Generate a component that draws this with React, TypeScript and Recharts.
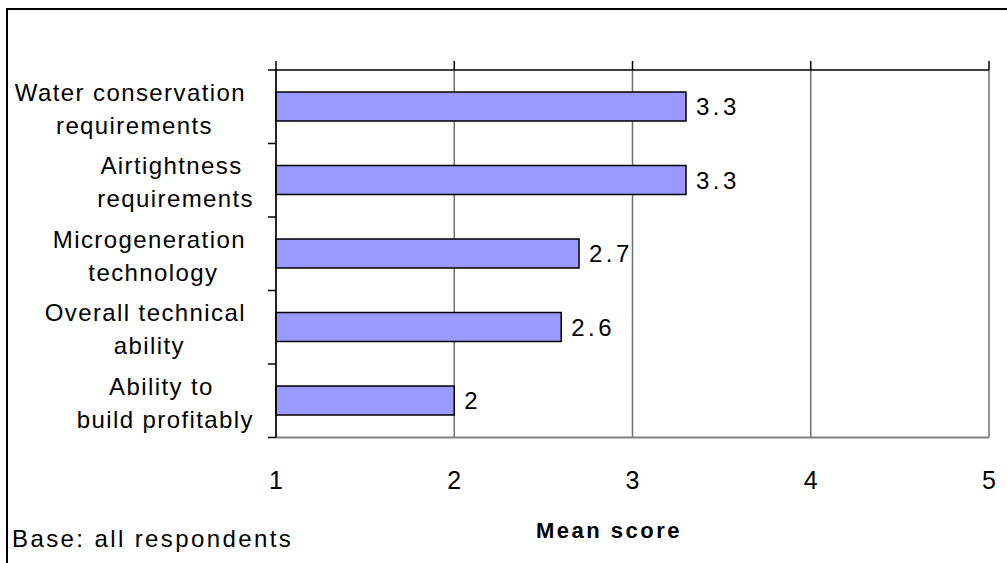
import {
  BarChart,
  Bar,
  XAxis,
  YAxis,
  CartesianGrid,
  LabelList,
} from "recharts";

const categories = [
  "Water conservation\nrequirements",
  "Airtightness\nrequirements",
  "Microgeneration\ntechnology",
  "Overall technical\nability",
  "Ability to\nbuild profitably",
];
const meanScores = [3.3, 3.3, 2.7, 2.6, 2];
const xTicks = [1, 2, 3, 4, 5];

const data = categories.map((name, i) => ({ name, score: meanScores[i] }));

const FONT = "'Liberation Sans', Arial, sans-serif";
const LABEL_SIZE = 24;
const LABEL_SPACING = 1.4;

let ctx: CanvasRenderingContext2D | null = null;
function textWidth(s: string) {
  if (!ctx) ctx = document.createElement("canvas").getContext("2d");
  if (!ctx) return s.length * LABEL_SIZE * 0.5;
  ctx.font = `${LABEL_SIZE}px ${FONT}`;
  return ctx.measureText(s).width + s.length * LABEL_SPACING;
}

// category label: lines centred inside a block that is right-aligned to the axis
// (Excel keeps the trailing space on wrapped lines), plus tick marks at the
// category boundaries
function CategoryTick(props: any) {
  const { x, y, payload, index, visibleTicksCount } = props;
  const half = payload.offset ?? 0;
  const lines: string[] = String(payload.value).split("\n");
  const space = textWidth(" ");
  const blockW = Math.max(
    ...lines.map((l, i) => textWidth(i < lines.length - 1 ? l + " " : l))
  );
  const cx = x - 22 - blockW / 2;
  const last = index === visibleTicksCount - 1;
  return (
    <g>
      <line x1={x - 8} x2={x} y1={y - half} y2={y - half} stroke="#000" strokeWidth={1.5} />
      {last && (
        <line x1={x - 8} x2={x} y1={y + half} y2={y + half} stroke="#000" strokeWidth={1.5} />
      )}
      {lines.map((l, i) => (
        <text
          key={i}
          x={i < lines.length - 1 ? cx - space / 2 : cx}
          y={y - 6 + i * 33}
          textAnchor="middle"
          fill="#000"
          style={{ fontFamily: FONT, fontSize: LABEL_SIZE, letterSpacing: LABEL_SPACING }}
        >
          {l}
        </text>
      ))}
    </g>
  );
}

const NoLabel = () => <g />;

export default function App() {
  return (
    <div
      style={{
        position: "absolute",
        left: 6,
        top: 8,
        width: 999,
        height: 553,
        borderTop: "2px solid #000",
        borderLeft: "2px solid #000",
        fontFamily: FONT,
        background: "#fff",
        overflow: "hidden",
      }}
    >
      <BarChart
        width={998}
        height={553}
        data={data}
        layout="vertical"
        margin={{ top: 59, right: 17, bottom: 65.5, left: 0 }}
        barSize={29}
      >
        <CartesianGrid
          xAxisId="bottom"
          yAxisId="cat"
          horizontal={false}
          stroke="#707070"
          strokeWidth={1.5}
        />
        <XAxis
          xAxisId="top"
          orientation="top"
          type="number"
          domain={[1, 5]}
          allowDataOverflow
          ticks={xTicks}
          height={1}
          tick={<NoLabel />}
          tickSize={9}
          tickLine={{ stroke: "#000", strokeWidth: 1.5 }}
          axisLine={{ stroke: "#000", strokeWidth: 1.5 }}
        />
        <XAxis
          xAxisId="bottom"
          orientation="bottom"
          type="number"
          domain={[1, 5]}
          ticks={xTicks}
          height={60}
          tickLine={false}
          tickSize={0}
          tickMargin={34}
          axisLine={{ stroke: "#808080", strokeWidth: 2 }}
          tick={{ fill: "#000", fontSize: 25, fontFamily: FONT }}
          label={{
            content: (p: any) => {
              const vb = p.viewBox;
              return (
                <text
                  x={vb.x + vb.width / 2 - 23.5}
                  y={vb.y + 100}
                  textAnchor="middle"
                  fill="#000"
                  style={{ fontFamily: FONT, fontSize: 22, fontWeight: 700, letterSpacing: 2.5 }}
                >
                  Mean score
                </text>
              );
            },
          }}
        />
        <YAxis
          yAxisId="cat"
          type="category"
          dataKey="name"
          width={268}
          interval={0}
          tickLine={false}
          tickSize={0}
          tickMargin={0}
          axisLine={{ stroke: "#000", strokeWidth: 1.5 }}
          tick={<CategoryTick />}
        />
        <Bar
          xAxisId="bottom"
          yAxisId="cat"
          dataKey="score"
          fill="#9999ff"
          stroke="#000"
          strokeWidth={1.5}
          isAnimationActive={false}
        >
          <LabelList
            dataKey="score"
            position="right"
            offset={10}
            fill="#000"
            style={{ fontFamily: FONT, fontSize: 24, letterSpacing: 3.5 }}
          />
        </Bar>
      </BarChart>
      <div
        style={{
          position: "absolute",
          left: 4,
          top: 517,
          fontSize: 24,
          lineHeight: "24px",
          letterSpacing: 2.4,
          whiteSpace: "nowrap",
        }}
      >
        Base: all respondents
      </div>
    </div>
  );
}
